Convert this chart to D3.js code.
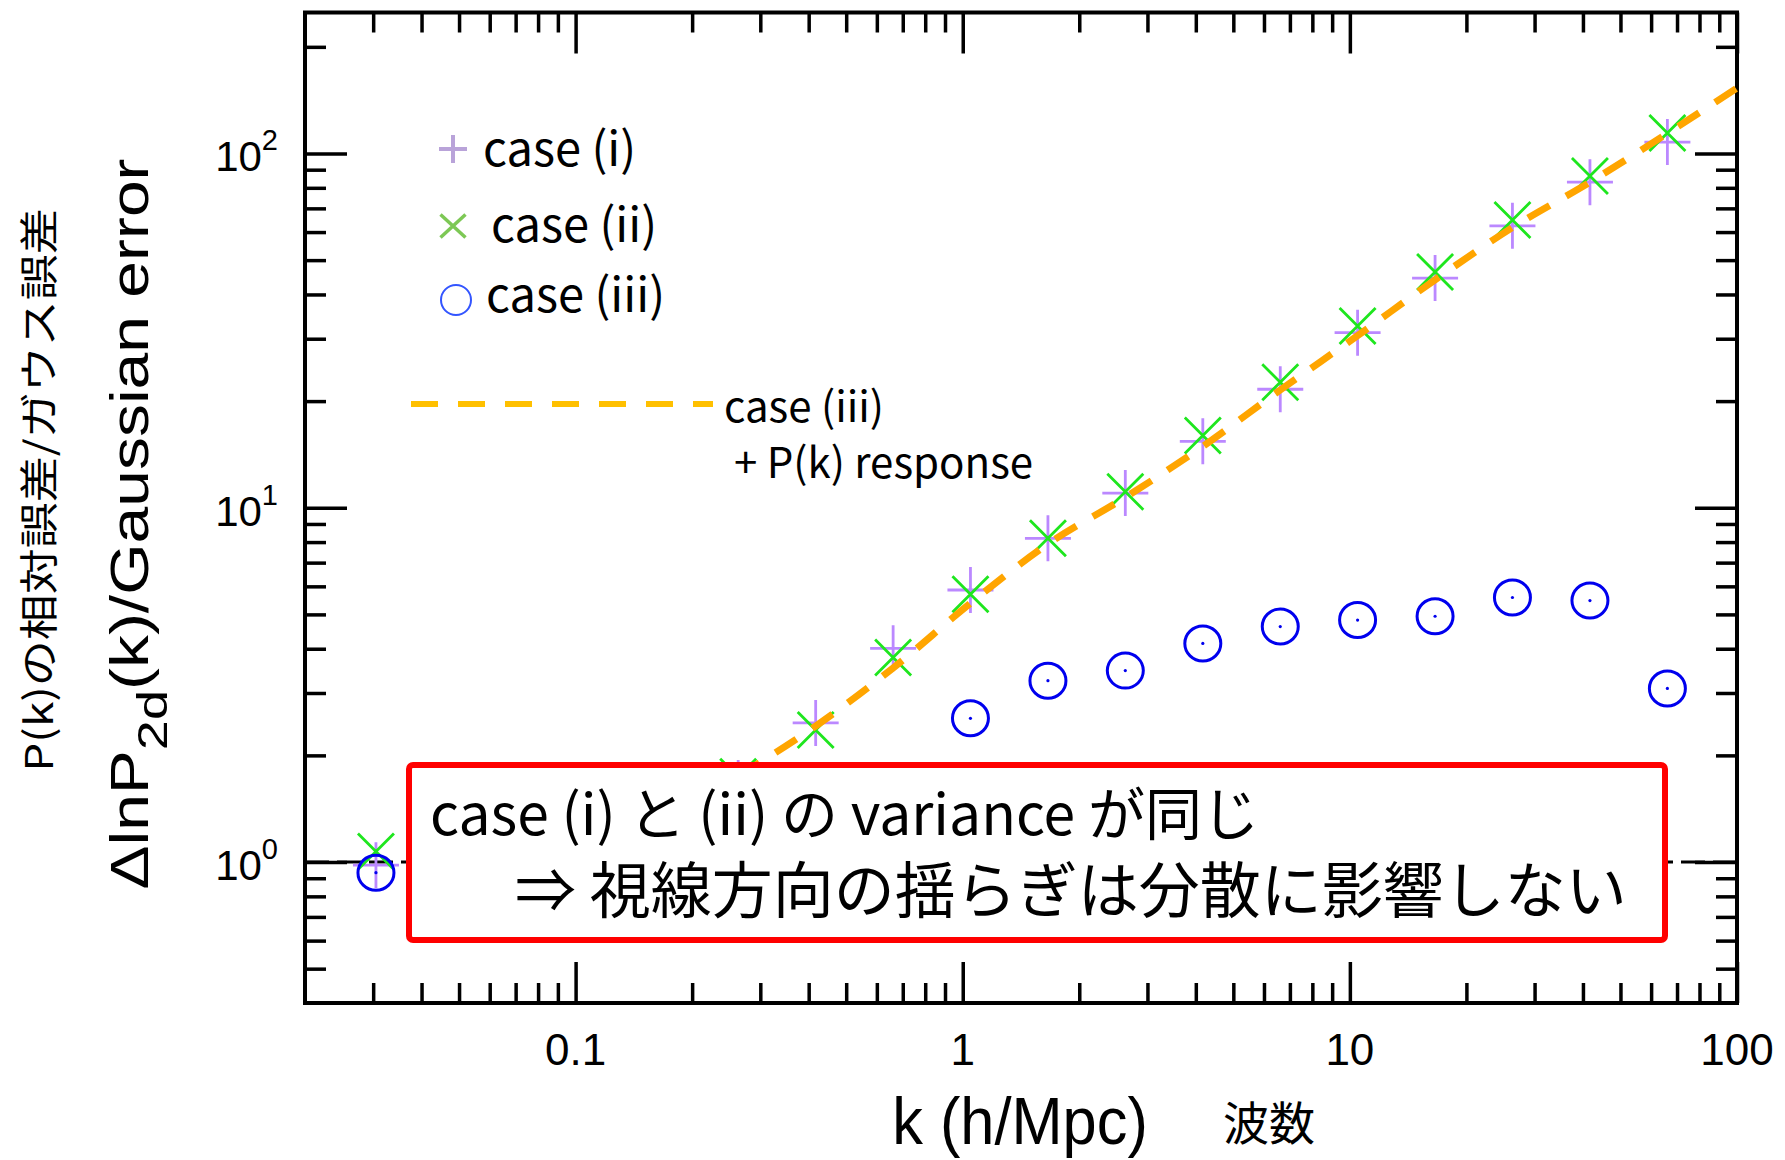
<!DOCTYPE html>
<html>
<head>
<meta charset="utf-8">
<script src="https://cdn.jsdelivr.net/npm/d3@7"></script>
<style>
  body { margin: 0; background: #fff; }
  .tick line { stroke: #000; stroke-width: 3.5; }
  .tick text { display: none; }
</style>
</head>
<body>
<div id="chart"></div>
<script>
// k bins (h/Mpc) of cases (i) and (ii)
var kBins = [0.0305, 0.263, 0.417, 0.661, 1.047, 1.66, 2.63, 4.17, 6.61, 10.47, 16.6, 26.3, 41.7, 66.1];
// case (i)  "+"
var case1 = [0.98, 1.67, 2.47, 4.01, 5.86, 8.2, 11.0, 15.4, 21.6, 31.2, 44.5, 62.5, 83.0, 107.7];
// case (ii) "x"
var case2 = [1.07, 1.74, 2.36, 3.78, 5.70, 8.2, 11.1, 16.0, 22.6, 32.6, 46.3, 64.9, 86.4, 114.2];
// case (iii) circles (the ones hidden by the box are not shown)
var kCase3 = [0.0305, 1.047, 1.66, 2.63, 4.17, 6.61, 10.47, 16.6, 26.3, 41.7, 66.1];
var case3 = [0.933, 2.545, 3.25, 3.47, 4.14, 4.62, 4.82, 4.94, 5.58, 5.47, 3.09];
// case (iii) + P(k) response (dashed orange)
var kResponse = [0.263, 0.417, 0.661, 1.047, 1.66, 2.63, 4.17, 6.61, 10.47, 16.6, 26.3, 41.7, 66.1, 100];
var response = [1.75, 2.42, 3.53, 5.38, 7.9, 10.7, 14.9, 21.5, 30.6, 44, 61.8, 83, 114, 153];

var xMajor = [0.1, 1, 10, 100];
var xLabels = ["0.1", "1", "10", "100"];
var yExponents = [0, 1, 2];

var width = 1785, height = 1160;
var margin = {top: 12.5, right: 48, bottom: 157, left: 305};

var svg = d3.select("#chart").append("svg")
    .attr("width", width)
    .attr("height", height);

var x = d3.scaleLog().domain([0.02, 100]).range([margin.left, width - margin.right]);
var y = d3.scaleLog().domain([0.4, 250]).range([height - margin.bottom, margin.top]);

var x0 = x.range()[0], x1 = x.range()[1], y0 = y.range()[0], y1 = y.range()[1];

// minor ticks 2..9 of every decade inside the domain
function minors(lo, hi) {
  var out = [];
  for (var e = -3; e <= 3; e++) {
    for (var m = 2; m <= 9; m++) {
      var v = m * Math.pow(10, e);
      if (v > lo * 1.001 && v < hi * 0.999) out.push(v);
    }
  }
  return out;
}
var xMinor = minors(0.02, 100);
var yMinor = minors(0.4, 250);
var yMajor = yExponents.map(function(e) { return Math.pow(10, e); });

function addAxis(axisFn, scale, values, size, tx, ty) {
  var g = svg.append("g")
      .attr("transform", "translate(" + tx + "," + ty + ")")
      .call(axisFn(scale).tickValues(values).tickSizeInner(-size).tickSizeOuter(0).tickFormat(""));
  g.select(".domain").remove();
}
// ticks point inward on all four sides
addAxis(d3.axisBottom, x, xMinor, 20, 0, y0);
addAxis(d3.axisBottom, x, xMajor, 41, 0, y0);
addAxis(d3.axisTop, x, xMinor, 20, 0, y1);
addAxis(d3.axisTop, x, xMajor, 41, 0, y1);
addAxis(d3.axisLeft, y, yMinor, 21, x0, 0);
addAxis(d3.axisLeft, y, yMajor, 42, x0, 0);
addAxis(d3.axisRight, y, yMinor, 21, x1, 0);
addAxis(d3.axisRight, y, yMajor, 42, x1, 0);

// frame
svg.append("rect")
    .attr("x", x0).attr("y", y1)
    .attr("width", x1 - x0).attr("height", y0 - y1)
    .style("fill", "none").style("stroke", "#000").style("stroke-width", 4);

// x tick labels
svg.selectAll(".xlab").data(xMajor).enter().append("text")
    .attr("x", function(d) { return x(d); })
    .attr("y", y0 + 62)
    .attr("text-anchor", "middle")
    .style("font-family", "'Liberation Sans', Arial, sans-serif")
    .style("font-size", "44px")
    .text(function(d, i) { return xLabels[i]; });

// y tick labels 10^n
var ylab = svg.selectAll(".ylab").data(yExponents).enter().append("text")
    .attr("x", x0 - 27)
    .attr("y", function(d) { return y(Math.pow(10, d)) + 18; })
    .attr("text-anchor", "end")
    .style("font-family", "'Liberation Sans', Arial, sans-serif")
    .style("font-size", "42px");
ylab.append("tspan").text("10");
ylab.append("tspan").attr("dy", -21).style("font-size", "29px").text(function(d) { return d; });

// reference line at 1
svg.append("line")
    .attr("x1", x0).attr("x2", x1)
    .attr("y1", y(1)).attr("y2", y(1))
    .style("stroke", "#000").style("stroke-width", 3)
    .style("stroke-dasharray", "24,8");

var plusPath = "M-23,0H23M0,-23V23";
var crossPath = "M-18,-18L18,18M-18,18L18,-18";

// case (i)
svg.selectAll(".p1").data(case1).enter().append("path")
    .attr("d", plusPath)
    .attr("transform", function(d, i) { return "translate(" + x(kBins[i]) + "," + y(d) + ")"; })
    .style("stroke", "#bb88ff").style("stroke-width", 2.8).style("fill", "none");

// case (ii)
svg.selectAll(".p2").data(case2).enter().append("path")
    .attr("d", crossPath)
    .attr("transform", function(d, i) { return "translate(" + x(kBins[i]) + "," + y(d) + ")"; })
    .style("stroke", "#1ee61e").style("stroke-width", 2.8).style("fill", "none");

// case (iii)
var c3 = svg.selectAll(".p3").data(case3).enter().append("g")
    .attr("transform", function(d, i) { return "translate(" + x(kCase3[i]) + "," + y(d) + ")"; });
c3.append("ellipse").attr("rx", 18).attr("ry", 17.5)
    .style("fill", "none").style("stroke", "#0000ee").style("stroke-width", 3);
c3.append("circle").attr("r", 1.6).style("fill", "#0000ee");

// response curve
var line = d3.line()
    .x(function(d, i) { return x(kResponse[i]); })
    .y(function(d) { return y(d); })
    .curve(d3.curveMonotoneX);

svg.append("path")
    .datum(response)
    .attr("d", line)
    .style("fill", "none")
    .style("stroke", "#ffa500")
    .style("stroke-width", 7)
    .style("stroke-dasharray", "25,19");

// legend for markers
var legFont = "'Noto Sans CJK JP', 'Noto Sans', sans-serif";
svg.append("path").attr("d", "M-14,0H14M0,-14V14")
    .attr("transform", "translate(453,149)")
    .style("stroke", "#b9a3d9").style("stroke-width", 4).style("fill", "none");
svg.append("path").attr("d", "M-12.5,-11.5L12.5,11.5M-12.5,11.5L12.5,-11.5")
    .attr("transform", "translate(453,226)")
    .style("stroke", "#7dc855").style("stroke-width", 3.5).style("fill", "none");
svg.append("circle").attr("cx", 456).attr("cy", 300).attr("r", 15)
    .style("fill", "none").style("stroke", "#3355ff").style("stroke-width", 2);

var legendText = [
  {t: "case (i)", x: 483, y: 166},
  {t: "case (ii)", x: 491, y: 242},
  {t: "case (iii)", x: 486, y: 312}
];
svg.selectAll(".leg").data(legendText).enter().append("text")
    .attr("x", function(d) { return d.x; })
    .attr("y", function(d) { return d.y; })
    .style("font-family", legFont)
    .style("font-size", "47px")
    .text(function(d) { return d.t; });

// legend for the dashed curve
svg.append("line")
    .attr("x1", 411).attr("x2", 713).attr("y1", 404).attr("y2", 404)
    .style("stroke", "#ffc000").style("stroke-width", 6)
    .style("stroke-dasharray", "27,20");
svg.append("text").attr("x", 724).attr("y", 422)
    .style("font-family", legFont).style("font-size", "42px")
    .text("case (iii)");
svg.append("text").attr("x", 734).attr("y", 478)
    .style("font-family", legFont).style("font-size", "42px")
    .text("+ P(k) response");

// axis titles
svg.append("text")
    .attr("transform", "translate(1020,1144) scale(0.93,1)")
    .attr("text-anchor", "middle")
    .style("font-family", "'Liberation Sans', Arial, sans-serif")
    .style("font-size", "66px")
    .text("k (h/Mpc)");
svg.append("text")
    .attr("x", 1223).attr("y", 1140)
    .style("font-family", legFont)
    .style("font-size", "46px")
    .text("波数");

var yTitle = svg.append("text")
    .attr("transform", "translate(148,524) rotate(-90) scale(1,0.8)")
    .attr("text-anchor", "middle")
    .style("font-family", "'Liberation Sans', Arial, sans-serif")
    .style("font-size", "66px");
yTitle.append("tspan").text("ΔlnP");
yTitle.append("tspan").attr("dy", 24).style("font-size", "54px").text("2d");
yTitle.append("tspan").attr("dy", -24).text("(k)/Gaussian error");

svg.append("text")
    .attr("transform", "translate(53,490) rotate(-90) scale(1,0.84)")
    .attr("text-anchor", "middle")
    .style("font-family", legFont)
    .style("font-size", "46px")
    .text("P(k)の相対誤差/ガウス誤差");

// annotation box
svg.append("rect")
    .attr("x", 409).attr("y", 765).attr("width", 1256).attr("height", 175)
    .attr("rx", 4)
    .style("fill", "#fff").style("stroke", "#ff0000").style("stroke-width", 6);
svg.append("text").attr("x", 430).attr("y", 835)
    .style("font-family", legFont).style("font-size", "57px")
    .text("case (i) と (ii) の variance が同じ");
svg.append("text").attr("x", 515).attr("y", 913)
    .style("font-family", legFont).style("font-size", "61px")
    .text("⇒ 視線方向の揺らぎは分散に影響しない");
</script>
</body>
</html>
